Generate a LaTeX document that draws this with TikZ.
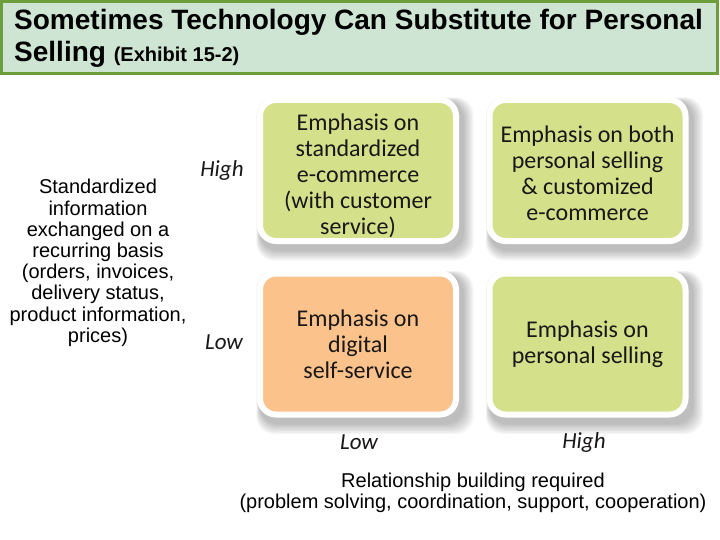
\documentclass[tikz,border=0pt]{standalone}
\usepackage{fontspec}
\setmainfont{Liberation Sans}
\newfontfamily\calfont{Carlito}
\usetikzlibrary{backgrounds}
\definecolor{titlefill}{HTML}{CDE5D2}
\definecolor{titleedge}{HTML}{6E9E3C}
\definecolor{boxgreen}{HTML}{D5E08B}
\definecolor{boxorange}{HTML}{FBC28C}
\definecolor{boxtext}{HTML}{1A1717}
\begin{document}
\begin{tikzpicture}[x=1pt,y=-1pt,
  quad/.style={draw=white, line width=6pt, rounded corners=16pt,
    minimum width=196pt, minimum height=141pt, inner sep=0pt},
  quadtxt/.style={align=center, inner sep=0pt, font=\calfont\fontsize{24}{26}\selectfont, text=boxtext},
  axislbl/.style={font=\calfont\itshape\fontsize{23}{26}\selectfont, text=boxtext, inner sep=0pt},
  sidetxt/.style={font=\fontsize{20}{21.2}\selectfont, align=center, inner sep=0pt},
  titletxt/.style={font=\bfseries\fontsize{28}{30}\selectfont, inner sep=0pt, anchor=base west}]
\begin{scope}[on background layer]
  \fill[white] (0,0) rectangle (720,540);
\end{scope}
\useasboundingbox (0,0) rectangle (720,540);
% title
\node (titlebox) [draw=titleedge, fill=titlefill, line width=3pt, minimum width=716pt, minimum height=72pt, inner sep=0pt, outer sep=0pt] at (359.5,37.5) {};
\node (title1) [titletxt] at (14,30) {Sometimes Technology Can Substitute for Personal};
\node (title2) [titletxt] at (14,62) {Selling {\fontsize{20}{22}\selectfont (Exhibit 15-2)}};
% quadrants
\node (tl) [quad, fill=boxgreen] at (358,170.5) {};
\node (tr) [quad, fill=boxgreen] at (587.5,170.5) {};
\node (bl) [quad, fill=boxorange] at (358,344) {};
\node (br) [quad, fill=boxgreen] at (587.5,344) {};
\node (tltext) [quadtxt] at (358,175.5) {Emphasis on\\standardized\\e-commerce\\(with customer\\service)};
\node (trtext) [quadtxt] at (587.5,173.5) {Emphasis on both\\personal selling\\\&{} customized\\e-commerce};
\node (bltext) [quadtxt] at (358,344) {Emphasis on\\digital\\self-service};
\node (brtext) [quadtxt] at (587.5,344.5) {Emphasis on\\personal selling};
% shadows
\begin{scope}[on background layer]
  \foreach \n in {tl,tr,bl,br}{
    \foreach \i in {0,...,6}{
      \fill[black, opacity=0.04, rounded corners=18pt]
        ([shift={(3-\i*0.6,4-\i*0.6)}]\n.north west) rectangle ([shift={(5+\i*1.6,7+\i*1.6)}]\n.south east);
    }
  }
\end{scope}
% axis labels
\node (yhigh) [axislbl] at (222,170) {High};
\node (ylow) [axislbl] at (224,342) {Low};
\node (xlow) [axislbl] at (359,442) {Low};
\node (xhigh) [axislbl] at (584,442) {High};
% side texts
\node (ytitle) [sidetxt] at (98,263) {Standardized\\information\\exchanged on a\\recurring basis\\(orders, invoices,\\delivery status,\\product information,\\prices)};
\node (xtitle) [sidetxt] at (473,493) {Relationship building required\\(problem solving, coordination, support, cooperation)};
\end{tikzpicture}
\end{document}
